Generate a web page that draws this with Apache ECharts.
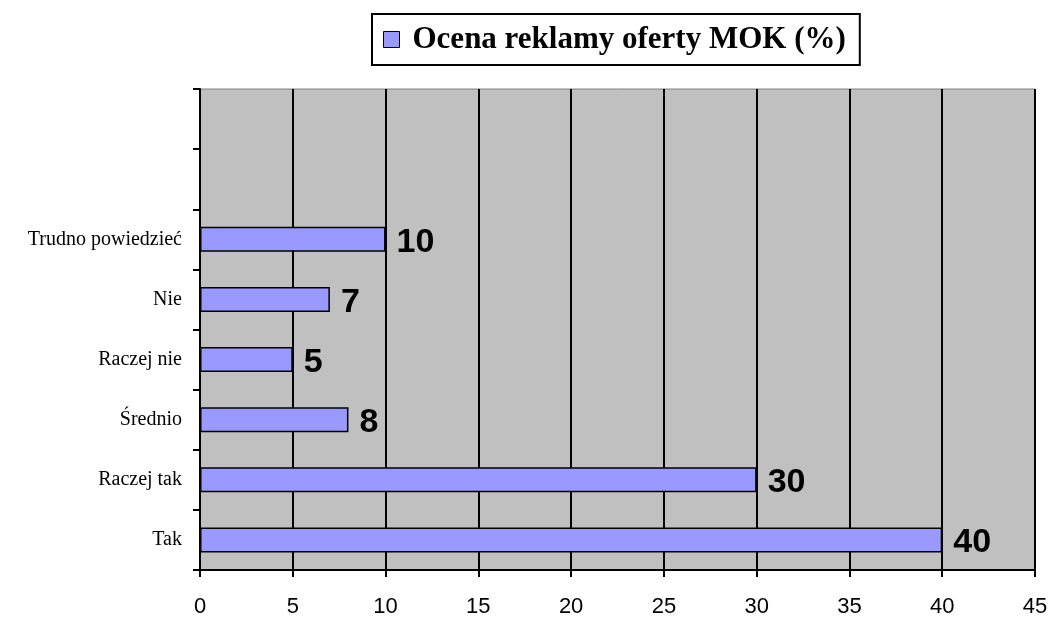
<!DOCTYPE html>
<html>
<head>
<meta charset="utf-8">
<script src="https://cdn.jsdelivr.net/npm/echarts@6/dist/echarts.min.js"></script>
<style>
  html, body { margin: 0; padding: 0; background: #fff; }
  #chart { width: 1052px; height: 619px; }
</style>
</head>
<body>
<div id="chart"></div>
<script>
// answers, bottom to top; two empty slots above like the original sheet
var categories = ['Tak', 'Raczej tak', 'Średnio', 'Raczej nie', 'Nie', 'Trudno powiedzieć', '', '']
var values = [40, 30, 8, 5, 7, 10, null, null]
var seriesName = 'Ocena reklamy oferty MOK (%)'
var xTicks = [0, 45, 5] // min, max, step

var chart = echarts.init(document.getElementById('chart'))
chart.setOption({
  animation: false,
  legend: {
    data: [seriesName],
    left: 372,
    top: 14,
    padding: [10, 14, 10, 11],
    borderColor: '#000',
    borderWidth: 2,
    itemWidth: 16,
    itemHeight: 16,
    icon: 'rect',
    itemStyle: { borderColor: '#000', borderWidth: 1 },
    textStyle: {
      fontFamily: 'Liberation Serif',
      fontWeight: 'bold',
      fontSize: 31,
      color: '#000',
      padding: [0, 0, 0, 8]
    }
  },
  grid: {
    left: 200,
    right: 17,
    top: 89,
    bottom: 49,
    show: true,
    backgroundColor: '#C0C0C0',
    borderColor: '#808080',
    borderWidth: 1
  },
  xAxis: {
    type: 'value',
    min: xTicks[0],
    max: xTicks[1],
    interval: xTicks[2],
    axisLine: { show: true, lineStyle: { color: '#000', width: 2 } },
    axisTick: { show: true, length: 7, lineStyle: { color: '#000', width: 2 } },
    splitLine: { show: true, lineStyle: { color: '#000', width: 2 } },
    axisLabel: {
      fontFamily: 'Liberation Sans',
      fontSize: 22,
      color: '#000',
      margin: 26
    }
  },
  yAxis: {
    type: 'category',
    data: categories,
    axisLine: { show: true, lineStyle: { color: '#000', width: 2 } },
    axisTick: { show: true, length: 7, interval: 0, lineStyle: { color: '#000', width: 2 } },
    axisLabel: {
      interval: 0,
      fontFamily: 'Liberation Serif',
      fontSize: 20,
      color: '#000',
      margin: 18
    },
    splitLine: { show: false }
  },
  series: [
    {
      name: seriesName,
      type: 'bar',
      data: values,
      barWidth: 25,
      itemStyle: { color: '#9999FF', borderColor: '#000', borderWidth: 1.5 },
      label: {
        show: true,
        position: 'right',
        distance: 11,
        offset: [0, 3],
        fontFamily: 'Liberation Sans',
        fontWeight: 'bold',
        fontSize: 34,
        color: '#000'
      }
    }
  ]
})
</script>
</body>
</html>
